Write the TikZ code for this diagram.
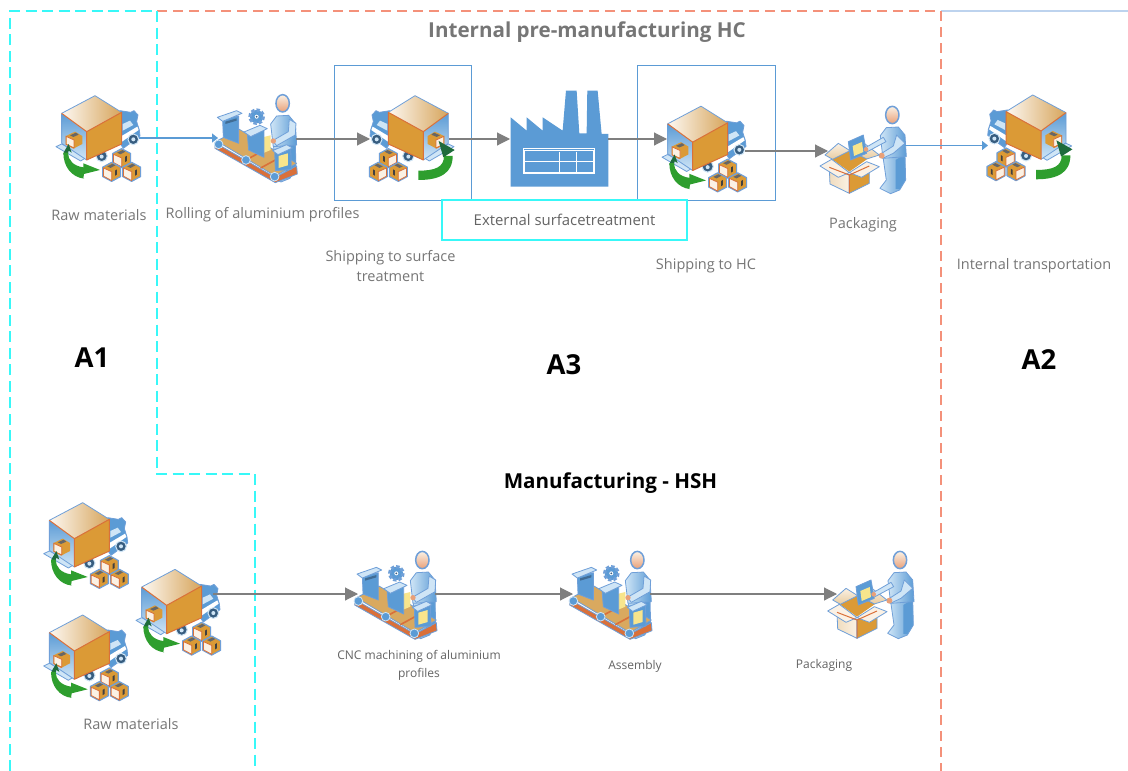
\documentclass[tikz,border=0pt]{standalone}
\usepackage{fontspec}
\setmainfont{Open Sans}
\definecolor{cyanD}{HTML}{38F8F8}
\definecolor{redD}{HTML}{F4917A}
\definecolor{blueL}{HTML}{BDD3EE}
\definecolor{boxB}{HTML}{5B9BD5}
\definecolor{outB}{HTML}{6F9FD8}
\definecolor{flowG}{HTML}{7F7F7F}
\definecolor{txtG}{HTML}{767676}
\definecolor{orgF}{HTML}{DB9A36}
\definecolor{orgE}{HTML}{D9703A}
\definecolor{tanF}{HTML}{D9A95F}
\definecolor{creamF}{HTML}{FBF1E4}
\definecolor{greenA}{HTML}{2E9E2E}
\definecolor{greenD}{HTML}{1E6B3C}
\definecolor{skyF}{HTML}{CFE5F6}
\definecolor{yelF}{HTML}{F8E58C}
\definecolor{faceB}{HTML}{E9A078}
\usetikzlibrary{arrows.meta}
\tikzset{
  lbl/.style={text=txtG,font=\fontsize{14.5}{20}\selectfont,inner sep=0pt,align=center},
  lblsm/.style={text=txtG!85!black,font=\fontsize{12}{18}\selectfont,inner sep=0pt,align=center},
  titleg/.style={text=txtG,font=\fontsize{20.6}{24}\selectfont\bfseries,inner sep=0pt},
  titlek/.style={text=black,font=\fontsize{20.6}{24}\selectfont\bfseries,inner sep=0pt},
  areaname/.style={text=black,font=\fontsize{27.5}{30}\selectfont\bfseries,inner sep=0pt},
  cyandash/.style={draw=cyanD,line width=1.8pt,dash pattern=on 11pt off 5.5pt},
  reddash/.style={draw=redD,line width=2.2pt,dash pattern=on 10pt off 6pt},
  frameB/.style={draw=boxB,line width=.9pt},
  frameC/.style={draw=cyanD,line width=1.6pt,fill=white},
  flowg/.style={draw=flowG,line width=1.1pt,-{Triangle[length=13pt,width=13pt,fill=flowG]}},
  flowb/.style={draw=boxB,line width=1.1pt,-{Triangle[length=6pt,width=9pt,fill=boxB]}},
  icon/.style={draw=outB,line width=.8pt,line join=round},
  truckA/.pic={\begin{scope}[scale=.3333]\truckbody\greenfwd\end{scope}},
  truckB/.pic={\begin{scope}[scale=.3333]\truckbody\greenback\end{scope}},
  worker/.pic={\begin{scope}[scale=.3333]\workbody\end{scope}},
  packer/.pic={\begin{scope}[scale=.3333]\packbody\end{scope}},
  plant/.pic={\begin{scope}[scale=.3333]\plantbody\end{scope}},
}
\newcommand{\cubeat}[2]{%
  \begin{scope}[shift={(#1,#2)},scale=1.12]
  \draw[draw=outB,line width=1.2pt,line join=round,fill=orgF] (-24,-12)--(0,-25)--(24,-12)--(24,13)--(0,26)--(-24,13)--cycle;
  \fill[black!60] (-12,-14)--(2,-21)--(10,-17)--(-3,-10)--cycle;
  \fill[creamF] (-22,-10)--(0,0)--(0,24)--(-22,12)--cycle;
  \fill[black!75] (9,-3)--(14,-6)--(14,8)--(9,11)--cycle;
  \draw[orgE,line width=.8pt] (-22,-10)--(0,0)--(0,24)--(-22,12)--cycle;
  \end{scope}}
\newcommand{\truckbody}{%
  % cab
  \path[icon,fill=boxB] (240,92)--(272,97)--(282,92)--(294,105)--(290,125)--(298,150)--(300,168)--(250,205)--(240,190)--cycle;
  \fill[white] (245,168)--(292,140)--(296,150)--(246,185)--cycle;
  \fill[skyF] (248,132)--(270,122)--(280,135)--(248,152)--cycle;
  \filldraw[draw=skyF,fill=boxB!60!black,line width=1pt] (280,178) circle (16);
  \fill[skyF] (280,178) circle (6);
  \filldraw[draw=skyF,fill=boxB!60!black,line width=1pt] (185,228) circle (17);
  \fill[skyF] (185,230) circle (6);
  % ramp
  \path[icon,fill=skyF] (48,200)--(65,192)--(140,232)--(122,243)--cycle;
  % open rear
  \path[top color=boxB,bottom color=skyF] (65,100)--(140,155)--(140,240)--(65,190)--cycle;
  \draw[icon] (140,240)--(65,190)--(65,100);
  % top
  \path[left color=creamF!50!white,right color=tanF!90!brown] (65,100)--(165,47)--(245,97)--(140,155)--cycle;
  \draw[icon] (65,100)--(165,47)--(245,97);
  % side
  \fill[orgF] (140,155)--(245,97)--(245,192)--(140,240)--cycle;
  \draw[orgE,line width=1pt,line join=round] (65,100)--(140,155)--(245,97)--(245,192)--(140,240)--(140,155);
  % box on tail
  \begin{scope}[shift={(100,180)}]
  \fill[orgF] (-22,-12)--(5,-25)--(27,-12)--(27,12)--(0,26)--(-22,14)--cycle;
  \fill[black!60] (-10,-14)--(8,-22)--(16,-16)--(0,-9)--cycle;
  \fill[creamF] (-20,-10)--(2,0)--(2,22)--(-20,12)--cycle;
  \draw[orgE,line width=.8pt] (-22,-11)--(2,0)--(2,24)--(-22,13)--cycle;
  \end{scope}
  \cubeat{245}{234}\cubeat{215}{275}\cubeat{275}{275}}
\newcommand{\greenfwd}{%
  \fill[greenD] (86,192)--(95,218)--(86,212)--(82,228)--(70,222)--(74,212)--cycle;
  \fill[greenA] (70,218) .. controls (70,260) and (95,292) .. (133,296)--(130,296)--(132,282)--(180,270)--(130,250)--(130,262) .. controls (100,258) and (84,240) .. (84,218)--cycle;}
\newcommand{\greenback}{%
  \fill[greenA] (52,228) .. controls (52,280) and (90,300) .. (155,300)--(155,272) .. controls (105,272) and (78,262) .. (78,228)--cycle;
  \fill[greenD] (94,183)--(46,210)--(80,232)--cycle;}
\newcommand{\personat}[2]{%
  \begin{scope}[shift={(#1,#2)}]
  \path[draw=outB,line width=.8pt,line join=round,left color=skyF,right color=boxB] (-28,125)--(38,115)--(40,195)--(22,225)--(-5,236)--(-37,220)--(-18,195)--cycle;
  \fill[boxB] (10,135)--(36,120)--(38,195)--(22,222)--(10,222)--cycle;
  \path[draw=outB,line width=.8pt,line join=round,left color=skyF,right color=boxB] (-36,62)--(-18,38)--(18,36)--(38,60)--(42,125)--(-28,130)--cycle;
  \path[draw=outB,line width=1.5pt,top color=creamF,bottom color=faceB] (0,0) ellipse (20 and 26);
  \end{scope}}
\newcommand{\belt}{%
  \path[icon,fill=orgE] (525,188)--(706,292)--(770,258)--(772,282)--(706,308)--(525,205)--cycle;
  \path[icon,fill=tanF] (530,183)--(598,148)--(770,250)--(706,288)--cycle;
  \draw[orgE,line width=1.6pt] (618,240)--(684,204) (662,264)--(728,228);
  \foreach \cx/\cy in {536/193,618/240}{\filldraw[draw=skyF,fill=boxB,line width=.8pt] (\cx,\cy) circle (13);}}
\newcommand{\workbody}{%
  \personat{728}{70}
  \belt
  % gear
  \filldraw[draw=outB,fill=boxB,line width=3.2pt,dash pattern=on 3pt off 2.2pt] (650,110) circle (20);
  \filldraw[draw=boxB,fill=white,line width=1.6pt] (650,110) circle (9);
  \fill[boxB!60!black] (650,110) circle (3);
  % item 1
  \path[icon,fill=boxB] (548,118)--(596,108)--(596,190)--(550,172)--cycle;
  \path[icon,fill=skyF] (532,112)--(590,92)--(606,100)--(548,124)--cycle;
  \fill[boxB!70!black] (556,125)--(590,115)--(590,122)--(556,132)--cycle;
  % item 2
  \fill[yelF] (668,172)--(692,166)--(692,210)--(668,220)--cycle;
  \path[icon,fill=boxB] (622,160)--(672,148)--(672,232)--(626,210)--cycle;
  \path[icon,fill=skyF] (612,156)--(660,136)--(682,146)--(632,170)--cycle;
  % arm
  \path[icon,fill=skyF] (748,118)--(768,130)--(766,165)--(710,197)--(698,182)--(745,155)--cycle;
  \fill[faceB] (700,183) circle (8);
  % item 3
  \path[icon,fill=boxB] (704,208)--(752,198)--(754,268)--(706,272)--cycle;
  \path[icon,fill=skyF] (698,212)--(740,194)--(757,204)--(714,224)--cycle;
  \fill[yelF] (716,228)--(744,220)--(744,256)--(716,264)--cycle;
  \filldraw[draw=skyF,fill=boxB,line width=.8pt] (704,290) circle (13);}
\newcommand{\packbody}{%
  \personat{787}{165}
  % near arm
  \path[icon,fill=skyF] (800,225)--(825,250)--(790,280)--(758,295)--(752,282)--(790,258)--cycle;
  \fill[faceB] (755,287) circle (9);
  % carton
  \fill[orgF] (605,297)--(658,272)--(712,297)--(658,335)--cycle;
  \path[icon,top color=creamF,bottom color=tanF!60!white] (585,285)--(625,250)--(660,272)--(608,298)--cycle;
  \path[icon,top color=creamF,bottom color=tanF!60!white] (710,297)--(660,272)--(700,248)--(748,285)--cycle;
  \path[icon,left color=tanF!40!white,right color=creamF] (598,322)--(658,345)--(658,400)--(600,372)--cycle;
  \path[icon,fill=orgF] (658,345)--(718,318)--(718,370)--(658,400)--cycle;
  \path[icon,fill=creamF] (570,318)--(605,298)--(658,338)--(625,352)--cycle;
  \path[icon,fill=creamF] (658,338)--(710,305)--(748,320)--(695,352)--cycle;
  \draw[orgE,line width=1pt] (598,322)--(658,345)--(718,318) (658,345)--(658,400);
  % clipboard
  \path[icon,fill=boxB] (655,245)--(700,225)--(710,280)--(662,300)--cycle;
  \fill[yelF] (668,258)--(696,246)--(700,276)--(672,288)--cycle;
  \path[icon,fill=skyF] (708,262)--(760,232)--(768,245)--(712,275)--cycle;
  \fill[faceB] (708,268) circle (7);}
\newcommand{\plantbody}{%
  \fill[boxB] (542,172)--(590,212)--(590,172)--(638,212)--(638,172)--(698,212)--(708,92)--(740,92)--(748,220)--(770,220)--(772,92)--(803,92)--(815,222)--(835,222)--(835,380)--(542,380)--cycle;
  \draw[white,line width=1pt] (580,267) rectangle (795,342) (580,305)--(795,305) (688,275)--(688,335) (740,275)--(740,335) (585,272) rectangle (790,337);}
\begin{document}
\begin{tikzpicture}[x=1pt,y=-1pt]
\useasboundingbox (0,0) rectangle (1128,771);
\fill[white] (0,0) rectangle (1128,771);
% area boundaries
\coordinate (tlC) at (10,11);
\coordinate (blC) at (10,771);
\coordinate (tm) at (157,11);
\coordinate (mn) at (157,474);
\coordinate (mr) at (255,474);
\coordinate (br) at (255,771);
\coordinate (trR) at (941,11);
\coordinate (brR) at (941,771);
\coordinate (endB) at (1128,11);
\draw[blueL,line width=2pt] (trR)--(endB);
\draw[reddash] (tm)--(trR);
\draw[reddash] (trR)--(brR);
\draw[cyandash] (blC)--(tlC)--(tm);
\draw[cyandash] (tm)--(mn)--(mr)--(br);
% frames
\node[frameB,minimum width=137pt,minimum height=135pt,inner sep=0pt] (frameS) at (402.5,132.5) {};
\node[frameB,minimum width=138pt,minimum height=135pt,inner sep=0pt] (frameH) at (706,132.5) {};
% icons
\pic (t1) at (40,80) {truckA};
\pic (w1) at (40,80) {worker};
\pic[xscale=-1] (t2) at (470,80) {truckB};
\pic (f1) at (330,60) {plant};
\pic (t3) at (646,90.5) {truckA};
\pic (p1) at (630,60) {packer};
\pic[xscale=-1] (t4) at (1087.7,79.3) {truckB};
\pic (t5) at (27.7,487) {truckA};
\pic (t6) at (27.7,599.3) {truckA};
\pic (t7) at (120,553.7) {truckA};
\pic (w2) at (179.7,536.7) {worker};
\pic (w3) at (394.7,536.7) {worker};
\pic (p2) at (637.7,505) {packer};
% cyan label box
\node[frameC,minimum width=245pt,minimum height=40pt,inner sep=0pt,text=txtG!85!black,font=\fontsize{14.9}{20}\selectfont] (ext) at (564.5,220) {External surfacetreatment};
% connector ports
\coordinate (a1) at (139,138);  \coordinate (a2) at (218,138);
\coordinate (b1) at (296,139);  \coordinate (b2) at (370,139);
\coordinate (c1) at (449,139);  \coordinate (c2) at (510,139);
\coordinate (d1) at (608,139);  \coordinate (d2) at (667,139);
\coordinate (e1) at (745,151);  \coordinate (e2) at (828,151);
\coordinate (g1) at (905,145.5);\coordinate (g2) at (988,145.5);
\coordinate (h1) at (213,594);  \coordinate (h2) at (358,594);
\coordinate (i1) at (435,594);  \coordinate (i2) at (573,594);
\coordinate (j1) at (650,594);  \coordinate (j2) at (837,594);
\draw[flowb] (a1)--(a2);
\draw[flowg] (b1)--(b2);
\draw[flowg] (c1)--(c2);
\draw[flowg] (d1)--(d2);
\draw[flowg] (e1)--(e2);
\draw[flowb] (g1)--(g2);
\draw[flowg] (h1)--(h2);
\draw[flowg] (i1)--(i2);
\draw[flowg] (j1)--(j2);
% labels
\node[titleg] (ttop) at (587,32.5) {Internal pre-manufacturing HC};
\node[titlek] (tbot) at (610.5,483.5) {Manufacturing - HSH};
\node[areaname] (na1) at (92,358) {A1};
\node[areaname] (na3) at (564,365) {A3};
\node[areaname] (na2) at (1039,360) {A2};
\node[lbl] (l1) at (99,215) {Raw materials};
\node[lbl] (l2) at (262.5,215) {Rolling of aluminium profiles};
\node[lbl] (l3) at (390.5,266) {Shipping to surface\\treatment};
\node[lbl] (l4) at (706,266) {Shipping to HC};
\node[lbl] (l5) at (863,225) {Packaging};
\node[lbl] (l6) at (1034,266) {Internal transportation};
\node[lbl] (l7) at (131,724) {Raw materials};
\node[lblsm] (l8) at (419,665) {CNC machining of aluminium\\profiles};
\node[lblsm] (l9) at (635,666.5) {Assembly};
\node[lblsm] (l10) at (824,665.5) {Packaging};
\end{tikzpicture}
\end{document}
